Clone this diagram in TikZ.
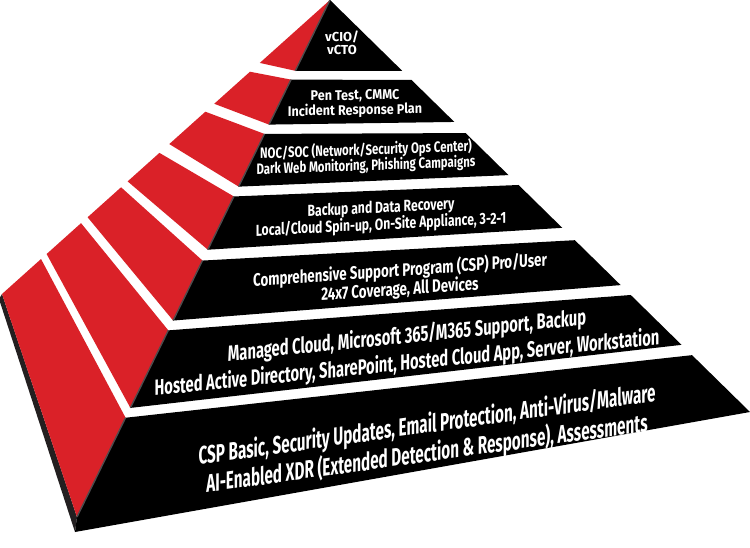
\documentclass[tikz,border=0pt]{standalone}
\usepackage{fontspec}
\newfontfamily\tierfont{Fira Sans}
\usetikzlibrary{calc}
\definecolor{pyrred}{HTML}{DA2128}
\definecolor{pyrshade}{HTML}{231F20}
\tikzset{
redface/.style = {fill=pyrred},
frontface/.style = {fill=black},
edgeshade/.style = {draw=pyrshade!80, line width=1.4pt},
tiertext/.style = {text=white, align=center, inner sep=0pt}
}
% one band of the red side: front edge from #1 to #2, back edge from #3 to #4
\newcommand{\redtier}[4]{\fill[redface] ($(A)!#1!(FL)$) -- ($(A)!#2!(FL)$) -- ($(A)!#4!(BL)$) -- ($(A)!#3!(BL)$) -- cycle;}
% one band of the black front: left edge from #1 to #2, right edge from #3 to #4
\newcommand{\blacktier}[4]{\fill[frontface] ($(A)!#1!(FL)$) -- ($(A)!#2!(FL)$) -- ($(A)!#4!(FR)$) -- ($(A)!#3!(FR)$) -- cycle;
  \draw[edgeshade] ($(A)!#1!(FL)$) -- ($(A)!#2!(FL)$);}
\newcommand{\tierfontsize}[2]{\tierfont\bfseries\fontsize{#1}{#2}\selectfont}

\begin{document}
\begin{tikzpicture}[x=1pt, y=-1pt]
\useasboundingbox (0,0) rectangle (750,548);
\coordinate (A) at (330,0);
\coordinate (BL) at (2,294);
\coordinate (FL) at (77,517);
\coordinate (FB) at (75,532);
\coordinate (FR) at (750,412);
\coordinate (BS) at (-1,299);

% shadow along the lower left edge
\fill[pyrshade] (BL) -- (BS) -- (FB) -- (FL) -- cycle;

% red side
\redtier{0}{0.137}{0}{0.214};
\redtier{0.154}{0.241}{0.244}{0.353};
\redtier{0.259}{0.361}{0.380}{0.490};
\redtier{0.380}{0.483}{0.520}{0.617};
\redtier{0.504}{0.620}{0.637}{0.739};
\redtier{0.639}{0.789}{0.759}{0.864};
\redtier{0.808}{1}{0.881}{1};

% black front
\blacktier{0}{0.137}{0}{0.172};
\blacktier{0.154}{0.241}{0.194}{0.296};
\blacktier{0.259}{0.361}{0.323}{0.425};
\blacktier{0.380}{0.483}{0.449}{0.553};
\blacktier{0.504}{0.620}{0.583}{0.692};
\blacktier{0.639}{0.789}{0.716}{0.837};
\fill[frontface] ($(A)!0.808!(FL)$) -- (FL) -- (FB) -- (FR) -- ($(A)!0.862!(FR)$) -- cycle;
\draw[edgeshade] ($(A)!0.808!(FL)$) -- (FL);

% labels
\node[tiertext, font=\tierfontsize{13}{13.5}] (vcio) at (342,43) {vCIO/\\vCTO};
\node[tiertext, xscale=0.9, yslant=0.018, font=\tierfontsize{14}{15}] (pentest) at (355,104) {Pen Test, CMMC\\Incident Response Plan};
\node[tiertext, xscale=0.76, yslant=0.027, font=\tierfontsize{15}{15.5}] (nocsoc) at (366,158) {NOC/SOC (Network/Security Ops Center)\\Dark Web Monitoring, Phishing Campaigns};
\node[tiertext, xscale=0.76, yslant=0.038, font=\tierfontsize{16}{17}] (backup) at (381,217) {Backup and Data Recovery\\Local/Cloud Spin-up, On-Site Appliance, 3-2-1};
\node[tiertext, xscale=0.74, yslant=0.052, font=\tierfontsize{18}{19}] (csppro) at (400,280) {Comprehensive Support Program (CSP) Pro/User\\24x7 Coverage, All Devices};
\node[tiertext, xscale=0.67, yslant=0.068, font=\tierfontsize{22}{27}] (cloud) at (407,350) {Managed Cloud, Microsoft 365/M365 Support, Backup\\Hosted Active Directory, SharePoint, Hosted Cloud App, Server, Workstation};
\node[tiertext, xscale=0.61, yslant=0.085, font=\tierfontsize{25}{29}] (cspbasic) at (427,440) {CSP Basic, Security Updates, Email Protection, Anti-Virus/Malware\\AI-Enabled XDR (Extended Detection \& Response), Assessments};
\end{tikzpicture}
\end{document}
